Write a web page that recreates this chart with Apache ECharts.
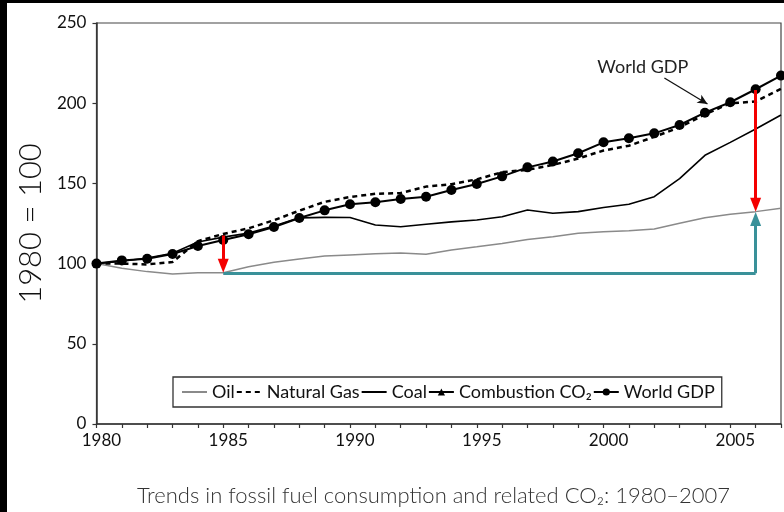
<!DOCTYPE html>
<html><head><meta charset="utf-8">
<script src="https://cdn.jsdelivr.net/npm/echarts@6/dist/echarts.min.js"></script>
<style>
html,body{margin:0;padding:0;background:#000;width:784px;height:512px;overflow:hidden}
#c{position:absolute;left:7px;top:3px;width:777px;height:509px;background:#fff}
</style></head><body><div id="c"></div>
<script>
const years = [1980,1981,1982,1983,1984,1985,1986,1987,1988,1989,1990,1991,1992,1993,1994,1995,1996,1997,1998,1999,2000,2001,2002,2003,2004,2005,2006,2007];
const oil = [100,97.1,95,93.5,94.3,94.3,98.1,100.8,102.9,104.7,105.4,106.1,106.6,105.8,108.5,110.5,112.6,115,116.8,118.9,119.9,120.5,121.6,125.1,128.6,130.7,132.4,134.5];
const naturalGas = [100,100,99.5,101,114,118.5,122,127,133,138.5,141.5,143.5,144,148,149.5,152.5,157,158.5,161.5,165.5,170.5,173.5,179,185,193,200,201,209];
const coal = [100,101.5,103.5,106.5,113.5,116.5,119,123.5,128.5,128.8,128.7,124.1,123,124.5,126,127.2,129.2,133.4,131.4,132.4,135,137,141.7,153,167.5,175.6,183.9,192.6];
const combustionCO2 = [];
const worldGDP = [100,102,103,106,111,114.7,118.3,122.8,128.4,133.2,137,138.2,140.3,141.7,145.9,149.6,154.4,160,163.7,168.8,175.6,178.1,181.2,186.4,194.1,200.6,208.7,217.2];
const xTickLabels = ['1980','1985','1990','1995','2000','2005'];
const yTicks = [0,50,100,150,200,250];
const seriesNames = ['Oil','Natural Gas','Coal','Combustion CO₂','World GDP'];

const pair = arr => arr.map((v,i)=>[years[i], v]);
const FONT = 'Lato';
const red = '#f40000', teal = '#3a9199';
const hiddenSym = {opacity:0, color:'rgba(0,0,0,0)', borderWidth:0};

const chart = echarts.init(document.getElementById('c'), null, {renderer:'canvas'});
chart.setOption({
  animation:false,
  textStyle:{fontFamily:FONT},
  title:{
    text:'Trends in fossil fuel consumption and related CO₂: 1980–2007',
    left:125, top:477,
    textStyle:{fontFamily:FONT, fontSize:22, fontWeight:300, color:'#333'}
  },
  grid:{left:81, top:20, right:1, bottom:88, show:true, borderColor:'#444', borderWidth:1.2, backgroundColor:'transparent'},
  legend:{
    data:[
      {name:seriesNames[0], itemStyle:hiddenSym},
      {name:seriesNames[1], itemStyle:hiddenSym},
      {name:seriesNames[2], itemStyle:hiddenSym},
      {name:seriesNames[3]},
      {name:seriesNames[4]}
    ],
    left:166, top:374,
    padding:[6,7,6,8],
    borderColor:'#333', borderWidth:1.3,
    itemGap:1, itemWidth:25, itemHeight:9,
    textStyle:{fontFamily:FONT, fontSize:18, color:'#111'},
    selectedMode:false
  },
  xAxis:{
    type:'value', min:1980, max:2007, interval:1,
    axisLine:{lineStyle:{color:'#333', width:1.5}},
    axisTick:{show:true, inside:false, length:4, lineStyle:{color:'#333', width:1.2}},
    axisLabel:{
      formatter:v=>xTickLabels.includes(String(v))?String(v):'',
      margin:8, fontSize:17, color:'#111', fontFamily:FONT, padding:[0,0,0,10],
      showMaxLabel:true, showMinLabel:true
    },
    splitLine:{show:false}
  },
  yAxis:{
    type:'value', min:yTicks[0], max:yTicks[yTicks.length-1], interval:50,
    name:'1980 = 100', nameLocation:'middle', nameRotate:90, nameGap:44,
    nameTextStyle:{fontFamily:FONT, fontSize:31, fontWeight:300, color:'#111'},
    axisLine:{show:true, lineStyle:{color:'#333', width:1.5}},
    axisTick:{show:true, inside:false, length:4, lineStyle:{color:'#333', width:1.2}},
    axisLabel:{margin:10, fontSize:17, color:'#111', fontFamily:FONT},
    splitLine:{show:false}
  },
  series:[
    {name:seriesNames[0], type:'line', data:pair(oil), symbol:'none', color:'#8a8a8a',
     itemStyle:hiddenSym,
     lineStyle:{color:'#8a8a8a', width:1.5}, z:2,
     markLine:{silent:true, symbol:['none','none'], label:{show:false}, z:10,
       data:[
         [{coord:[1985,94]},{coord:[2006,94]}],
         [{coord:[2006,94], symbol:'none'},{coord:[2006,127.8], symbol:'triangle', symbolSize:[11,14]}]
       ],
       lineStyle:{color:teal, width:3, type:'solid'}
     }},
    {name:seriesNames[1], type:'line', data:pair(naturalGas), symbol:'none', color:'#000',
     itemStyle:hiddenSym,
     lineStyle:{color:'#000', width:2.5, type:[5,4]}, z:3},
    {name:seriesNames[2], type:'line', data:pair(coal), symbol:'none', color:'#000',
     itemStyle:hiddenSym,
     lineStyle:{color:'#000', width:1.6}, z:3,
     markLine:{silent:true, symbol:['none','none'], label:{show:false}, z:11,
       data:[
         [{coord:[1985,117.5], symbol:'none'},{coord:[1985,98.6], symbol:'triangle', symbolSize:[11,14]}],
         [{coord:[2006,208.2], symbol:'none'},{coord:[2006,136.7], symbol:'triangle', symbolSize:[11,14]}]
       ],
       lineStyle:{color:red, width:3, type:'solid'}
     }},
    {name:seriesNames[3], type:'line', data:pair(combustionCO2), symbol:'triangle', symbolSize:8, color:'#000',
     lineStyle:{color:'#000', width:1.6}},
    {name:seriesNames[4], type:'line', data:pair(worldGDP), symbol:'circle', symbolSize:10, showAllSymbol:true, color:'#000',
     itemStyle:{color:'#000'}, lineStyle:{color:'#000', width:2}, z:4,
     markLine:{silent:true, symbol:['none','none'], label:{show:false},
       data:[[{coord:[2002.4,215.7], symbol:'none'},{coord:[2004.1,199.5], symbol:'arrow', symbolSize:[7,10]}]],
       lineStyle:{color:'#111', width:1.3, type:'solid'}
     },
     markPoint:{silent:true, symbol:'rect', symbolSize:[1,1], itemStyle:{color:'rgba(0,0,0,0)'},
       label:{show:true, position:'inside', formatter:'World GDP', fontFamily:FONT, fontSize:18, color:'#222'},
       data:[{coord:[2001.55,222.6]}]
     }}
  ]
});
</script></body></html>
